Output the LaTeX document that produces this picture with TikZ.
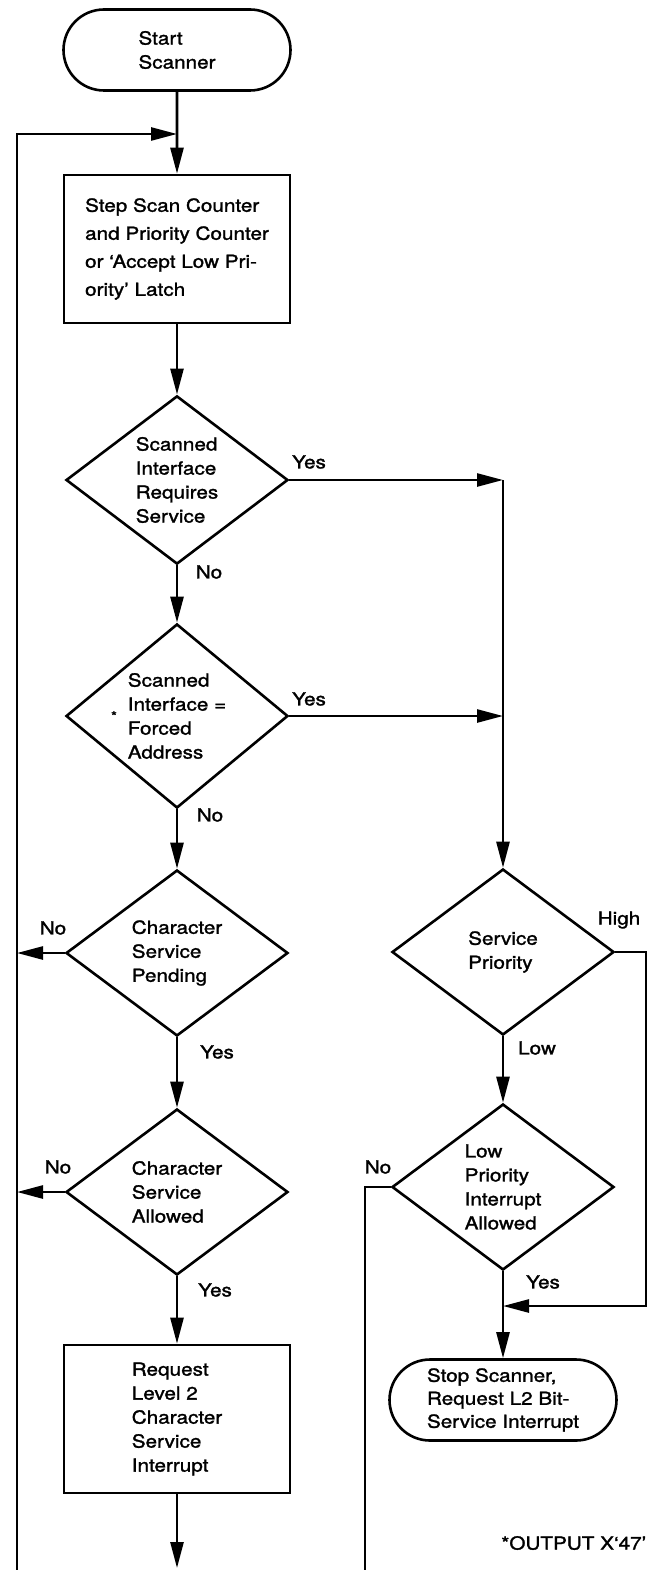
\documentclass[tikz,border=0pt]{standalone}
\usepackage{fontspec}
\setmainfont{TeX Gyre Heros}[FakeStretch=1.15, FakeBold=1.5]
\usetikzlibrary{shapes.geometric, shapes.misc, arrows.meta}

\begin{document}
\begin{tikzpicture}[x=1pt, y=-1pt, line width=2.6pt,
    font=\fontsize{18}{24}\selectfont,
    decision/.style={draw, diamond, inner sep=0pt, align=left, minimum width=222pt, minimum height=166pt},
    process/.style={draw, rectangle, inner sep=0pt, align=left, minimum width=226pt, minimum height=148pt},
    terminal/.style={draw, rounded rectangle, inner sep=0pt, align=left, minimum width=227pt, minimum height=81pt},
    flecha/.style={-{Triangle[length=26pt, width=13pt]}},
    etiqueta/.style={inner sep=0pt}]
    \useasboundingbox (0,0) rectangle (663,1570);

    % Columna izquierda
    \node[terminal] (start) at (177,50) {Start\\Scanner};
    \node[process, font=\fontsize{18}{28}\selectfont] (stepbox) at (177,249) {Step Scan Counter\\and Priority Counter\\or ‘Accept Low Pri-\\ority’ Latch};
    \node[decision] (scan) at (177,480) {Scanned\\Interface\\Requires\\Service};
    \node[decision] (forced) at (177,716) {Scanned\\Interface =\\Forced\\Address};
    \node[decision] (pending) at (177,953) {Character\\Service\\Pending};
    \node[decision] (allowed) at (177,1192) {Character\\Service\\Allowed};
    \node[process] (request) at (177,1419) {Request\\Level 2\\Character\\Service\\Interrupt};

    % Columna derecha
    \node[decision] (priority) at (503,952) {Service\\Priority};
    \node[decision] (lowok) at (503,1187) {Low\\Priority\\Interrupt\\Allowed};
    \node[terminal, font=\fontsize{18}{23}\selectfont] (stop) at (503,1400) {Stop Scanner,\\Request L2 Bit-\\Service Interrupt};

    % Puntos de union
    \coordinate (merge) at (177,134);
    \coordinate (looptop) at (17,134);
    \coordinate (loopbot) at (17,1570);
    \coordinate (endarrow) at (177,1568);
    \coordinate (rcol1) at (503,480);
    \coordinate (rcol2) at (503,716);
    \coordinate (hiturn) at (646,1306);
    \coordinate (hijoin) at (503,1306);
    \coordinate (nobot) at (365,1570);

    % Conectores
    \draw[flecha] (start) -- (stepbox);
    \draw[flecha] (loopbot) -- (looptop) -- (merge);
    \draw[flecha] (stepbox) -- (scan);
    \draw[flecha] (scan) -- (forced);
    \draw[flecha] (forced) -- (pending);
    \draw[flecha] (pending) -- (allowed);
    \draw[flecha] (allowed) -- (request);
    \draw[flecha] (request) -- (endarrow);
    \draw[flecha] (pending.west) -- (pending.west -| looptop);
    \draw[flecha] (allowed.west) -- (allowed.west -| looptop);
    \draw[flecha] (scan.east) -- (rcol1);
    \draw[flecha] (forced.east) -- (rcol2);
    \draw[flecha] (rcol1) -- (priority);
    \draw[flecha] (priority) -- (lowok);
    \draw[flecha] (priority.east) -| (hiturn) -- (hijoin);
    \draw (lowok.west) -| (nobot);
    \draw[flecha] (lowok) -- (stop);

    % Etiquetas
    \node[etiqueta] (yes1) at (309,462) {Yes};
    \node[etiqueta] (no1) at (209,572) {No};
    \node[etiqueta] (yes2) at (309,699) {Yes};
    \node[etiqueta] (no2) at (210,815) {No};
    \node[etiqueta] (no3) at (53,928) {No};
    \node[etiqueta] (yes3) at (217,1052) {Yes};
    \node[etiqueta] (no4) at (58,1167) {No};
    \node[etiqueta] (yes4) at (215,1290) {Yes};
    \node[etiqueta] (high) at (619,920) {High};
    \node[etiqueta] (low) at (537,1048) {Low};
    \node[etiqueta] (no5) at (378,1167) {No};
    \node[etiqueta] (yes5) at (543,1282) {Yes};
    \node[etiqueta, font=\fontsize{13}{13}\selectfont] (ast) at (114,716) {*};
    \node[etiqueta, anchor=west] (nota) at (500,1543) {*OUTPUT X‘47’};
\end{tikzpicture}
\end{document}
